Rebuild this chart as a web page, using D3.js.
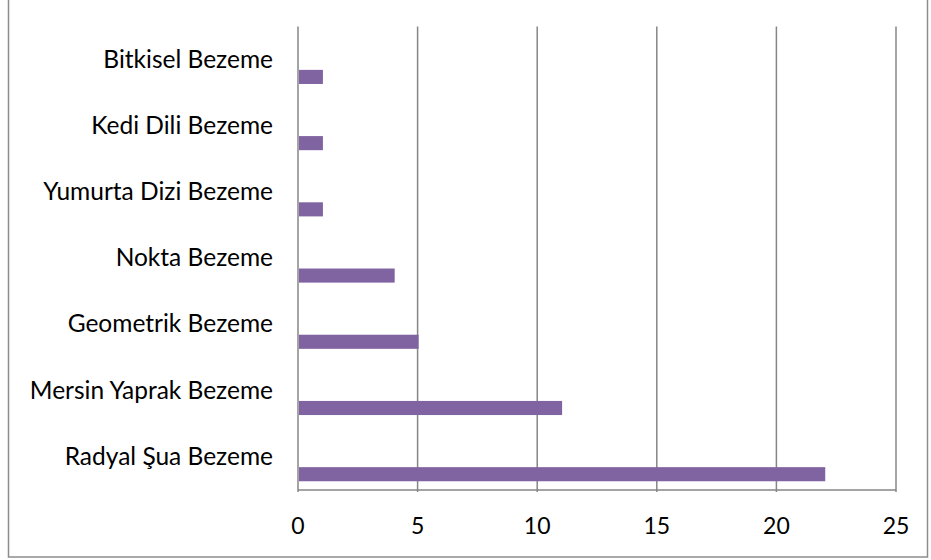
<!DOCTYPE html>
<html>
<head>
<meta charset="utf-8">
<script src="https://cdn.jsdelivr.net/npm/d3@7"></script>
<style>
  body { margin: 0; background: #fff; }
  svg text { font-family: Lato, "Open Sans", sans-serif; fill: #000; }
</style>
</head>
<body>
<svg id="chart" width="931" height="560"></svg>
<script>
// categories top to bottom, as in the picture
var categories = ["Bitkisel Bezeme", "Kedi Dili Bezeme", "Yumurta Dizi Bezeme",
                  "Nokta Bezeme", "Geometrik Bezeme", "Mersin Yaprak Bezeme", "Radyal Şua Bezeme"];
var values = [1, 1, 1, 4, 5, 11, 22];
var ticks = [0, 5, 10, 15, 20, 25];

var svg = d3.select("#chart");
// note: "top" is taken by window.top, so plot* names
var plotLeft = 298, plotRight = 896, plotTop = 26.5, plotBottom = 490;

// outer chart frame
svg.append("rect")
  .attr("x", 8.5).attr("y", -1).attr("width", 919).attr("height", 558)
  .attr("fill", "none").attr("stroke", "#8c8c8c").attr("stroke-width", 1.5);

var x = d3.scaleLinear().domain([0, 25]).range([plotLeft, plotRight]);
var y = d3.scaleBand().domain(categories).range([plotTop, plotBottom]).padding(0);

// gridlines
svg.append("g").selectAll("line")
  .data(ticks)
  .enter().append("line")
  .attr("x1", function(d) { return x(d); })
  .attr("x2", function(d) { return x(d); })
  .attr("y1", plotTop).attr("y2", plotBottom + 2)
  .attr("stroke", "#868686").attr("stroke-width", 1.5);

// bottom axis line
svg.append("line")
  .attr("x1", plotLeft).attr("x2", plotRight)
  .attr("y1", plotBottom).attr("y2", plotBottom)
  .attr("stroke", "#868686").attr("stroke-width", 1.5);

// bars sit in the lower part of each band (excel cluster slot)
var bw = y.bandwidth();
svg.append("g").selectAll("rect")
  .data(values)
  .enter().append("rect")
  .attr("x", x(0) + 1)
  .attr("y", function(d, i) { return y(categories[i]) + bw * 0.655; })
  .attr("width", function(d) { return x(d) - x(0); })
  .attr("height", bw * 0.213)
  .attr("fill", "#8064a2");

// category labels
svg.append("g").selectAll("text")
  .data(categories)
  .enter().append("text")
  .attr("x", 273)
  .attr("y", function(d) { return y(d) + bw / 2 + 8; })
  .attr("text-anchor", "end")
  .attr("font-size", 24.5)
  .text(function(d) { return d; });

// tick labels
svg.append("g").selectAll("text")
  .data(ticks)
  .enter().append("text")
  .attr("x", function(d) { return x(d); })
  .attr("y", 534)
  .attr("text-anchor", "middle")
  .attr("font-size", 23)
  .text(function(d) { return d; });
</script>
</body>
</html>
